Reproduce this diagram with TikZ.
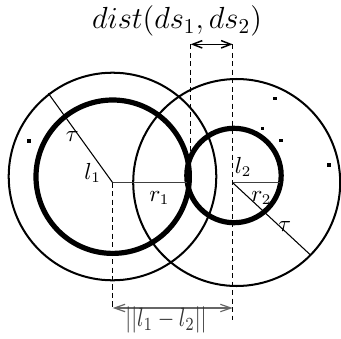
\documentclass[tikz,border=0pt]{standalone}
\usetikzlibrary{arrows.meta}
\begin{document}
\begin{tikzpicture}[x=0.4717pt,y=-0.4717pt,
  outer/.style={line width=0.95pt},
  thickc/.style={line width=2.45pt},
  radline/.style={line width=0.5pt},
  rline/.style={line width=0.6pt, black!75},
  dashline/.style={line width=0.5pt, dash pattern=on 2.4pt off 1.6pt},
  dimarrow/.style={line width=0.7pt, {Straight Barb[length=4.5pt,width=3.5pt]}-{Straight Barb[length=4.5pt,width=3.5pt]}},
  graydim/.style={line width=0.55pt, black!60, {Straight Barb[length=5pt,width=3.5pt]}-{Straight Barb[length=5pt,width=3.5pt]}},
  lbl/.style={inner sep=0pt, anchor=base west, font=\fontsize{10.5}{12}\selectfont},
  dot/.style={fill=black, inner sep=0pt, minimum size=1.6pt, draw=none, rectangle}]
\useasboundingbox (0,0) rectangle (341,339);
% centres and points
\coordinate (c1) at (112.5,176.5);
\coordinate (k1) at (112.7,176.7);
\coordinate (c2) at (236.7,182.5);
\coordinate (k2) at (234,175.5);
\coordinate (l1) at (112.7,182.7);
\coordinate (l2) at (232.7,182.7);
\coordinate (r1e) at (186.7,182.7);
\coordinate (r2e) at (280,182.7);
\coordinate (t1e) at (48.3,93.3);
\coordinate (t2e) at (310,254.5);
% circles
\draw[outer] (c1) circle[radius=103.8];
\draw[outer] (c2) circle[radius=103.5];
\draw[thickc] (k1) circle[radius=76.7];
\draw[thickc] (k2) circle[radius=47.2];
% radius lines
\draw[radline] (l1) -- (t1e);
\draw[radline] (l2) -- (t2e);
\draw[rline] (l1) -- (r1e);
\draw[rline] (l2) -- (r2e);
% dashed guides
\coordinate (ta) at (190.7,44.3);
\coordinate (tb) at (232.7,44.3);
\coordinate (ta2) at (190.7,175);
\coordinate (tb2) at (232.7,320);
\coordinate (ba) at (112.7,308);
\coordinate (bb) at (232.7,308);
\draw[dashline] (ta) -- (ta2);
\draw[dashline] (tb) -- (tb2);
\draw[dashline] (l1) -- (ba);
% dimension arrows
\draw[dimarrow] (ta) -- (tb);
\draw[graydim] (ba) -- (bb);
% labels
\node[inner sep=0pt] (top) at (177,21) {\fontsize{14.8}{18}\selectfont $dist(ds_1,ds_2)$};
\node[inner sep=0pt, text=black!80] (bot) at (166,320) {\scalebox{1}[1.25]{$||l_1-l_2||$}};
\node[lbl] (L1) at (84,179) {$l_1$};
\node[lbl] (L2) at (234.5,173.3) {$l_2$};
\node[lbl] (R1) at (149,201.5) {$r_1$};
\node[lbl] (R2) at (251,201.5) {$r_2$};
\node[lbl] (T1) at (65.5,141) {$\tau$};
\node[lbl] (T2) at (278,231.7) {$\tau$};
% dots
\node[dot] (d1) at (29,141) {};
\node[dot] (d2) at (275,98.7) {};
\node[dot] (d3) at (262.7,128.3) {};
\node[dot] (d4) at (281,140.7) {};
\node[dot] (d5) at (329,165) {};
\end{tikzpicture}
\end{document}
